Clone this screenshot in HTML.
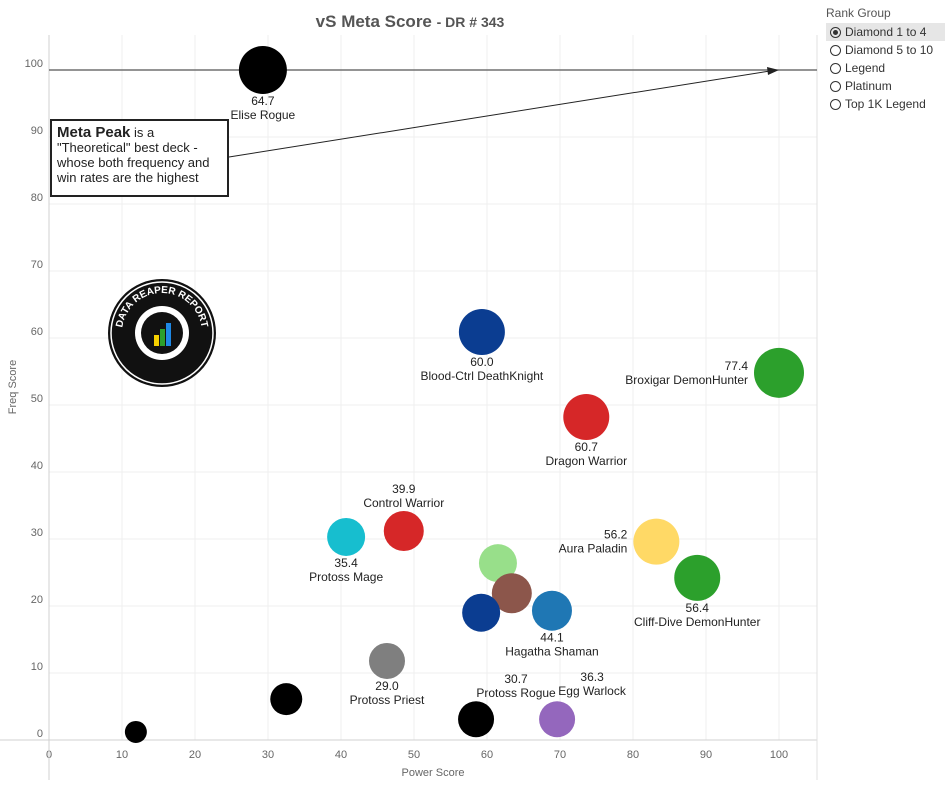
<!DOCTYPE html>
<html><head><meta charset="utf-8">
<style>
body{margin:0;background:#fff;font-family:"Liberation Sans",Arial,sans-serif;}
#wrap{position:relative;width:945px;height:789px;overflow:hidden;}
svg text{font-family:"Liberation Sans",Arial,sans-serif;}
.legend{position:absolute;left:826px;top:6px;font-size:12px;color:#333;}
.legend .t{color:#555;margin-bottom:3px;}
.legend .it{height:18px;line-height:18px;display:flex;align-items:center;padding-left:4px;width:115px;}
.legend .it.sel{background:#e6e6e6;}
.rad{width:11px;height:11px;border:1px solid #333;border-radius:50%;margin-right:4px;box-sizing:border-box;position:relative;}
.sel .rad::after{content:"";position:absolute;left:2px;top:2px;width:5px;height:5px;border-radius:50%;background:#333;}
.note{position:absolute;left:50px;top:119px;width:170px;height:70px;border:2px solid #222;background:#fff;padding:4px 0 0 5px;font-size:13px;line-height:15px;color:#222;}
</style></head><body>
<div id="wrap">
<svg id="chart" width="945" height="789">
<defs><path id="arcTop" d="M 122 333 A 40 40 0 0 1 202 333"/></defs>
<text x="410" y="27" text-anchor="middle" font-size="17" font-weight="bold" fill="#555">vS Meta Score <tspan font-size="14">- DR # 343</tspan></text>
<g id="grid"></g>
<g id="marks"></g>
</svg>
<div class="note"><b style="font-size:15px">Meta Peak</b> is a "Theoretical" best deck - whose both frequency and win rates are the highest</div>
<div class="legend">
<div class="t">Rank Group</div>
<div class="it sel"><span class="rad"></span>Diamond 1 to 4</div>
<div class="it"><span class="rad"></span>Diamond 5 to 10</div>
<div class="it"><span class="rad"></span>Legend</div>
<div class="it"><span class="rad"></span>Platinum</div>
<div class="it"><span class="rad"></span>Top 1K Legend</div>
</div>
</div>
<script>
const names=["Elise Rogue","Blood-Ctrl DeathKnight","Broxigar DemonHunter","Dragon Warrior","Control Warrior","Protoss Mage","Aura Paladin","Cliff-Dive DemonHunter","","","","Hagatha Shaman","Protoss Priest","","","Protoss Rogue","Egg Warlock"];
const powerScores=[29.3,59.3,100,73.6,48.6,40.7,83.2,88.8,61.5,63.4,59.2,68.9,46.3,32.5,11.9,58.5,69.6];
const freqScores=[100,60.9,54.8,48.2,31.2,30.3,29.6,24.2,26.4,21.9,19.0,19.3,11.8,6.1,1.2,3.1,3.1];
const metaScores=["64.7","60.0","77.4","60.7","39.9","35.4","56.2","56.4","","","","44.1","29.0","","","30.7","36.3"];
const bubbleSizes=[24,23,25,23,20,19,23,23,19,20,19,20,18,16,11,18,18];
const colors=["#000","#0b3d91","#2ca02c","#d62728","#d62728","#17becf","#ffd966","#2ca02c","#98df8a","#8c564b","#0b3d91","#1f77b4","#7f7f7f","#000","#000","#000","#9467bd"];
const labelPos=["below","below","left","below","above","below","left","below","","","","below","below","","","aboveL","aboveR"];
const xTicks=[0,10,20,30,40,50,60,70,80,90,100];
const yTicks=[0,10,20,30,40,50,60,70,80,90,100];
const X=v=>49+7.3*v, Y=v=>740-6.7*v;
const NS="http://www.w3.org/2000/svg";
function el(t,a,p){const e=document.createElementNS(NS,t);for(const k in a)e.setAttribute(k,a[k]);p.appendChild(e);return e;}
const g=document.getElementById('grid'), m=document.getElementById('marks');
xTicks.forEach(t=>{
 if(t>0){const l=el('line',{x1:X(t),x2:X(t),y1:35,y2:740,stroke:'#efefef'},g);
 
 }
 const tx=el('text',{x:X(t),y:758,'text-anchor':'middle','font-size':11,fill:'#666'},g);tx.textContent=t;
 
 
});
yTicks.forEach(t=>{
 if(t>0){const l=el('line',{x1:49,x2:817,y1:Y(t),y2:Y(t),stroke:'#efefef'},g);
 
 }
 const tx=el('text',{x:43,y:Y(t)-3,'text-anchor':'end','font-size':11,fill:'#666'},g);tx.textContent=t;
 
 
});
el('line',{x1:49,x2:49,y1:35,y2:780,stroke:'#d0d0d0'},g);
el('line',{x1:0,x2:817,y1:740,y2:740,stroke:'#d0d0d0'},g);
el('line',{x1:817,x2:817,y1:35,y2:780,stroke:'#e0e0e0'},g);
el('line',{x1:49,x2:817,y1:Y(100),y2:Y(100),stroke:'#555','stroke-width':1.3},g);
el('line',{x1:229,x2:770,y1:157,y2:71,stroke:'#222'},g);
el('polygon',{points:'779,70 767,67 768,75',fill:'#222'},g);
let xt=el('text',{x:433,y:776,'text-anchor':'middle','font-size':11,fill:'#666'},g);xt.textContent='Power Score';

let yt=el('text',{x:16,y:387,'text-anchor':'middle','font-size':11,fill:'#666',transform:'rotate(-90 16 387)'},g);yt.textContent='Freq Score';

// logo
const lg=el('g',{},g);

el('circle',{cx:162,cy:333,r:54,fill:'#111'},lg);
el('circle',{cx:162,cy:333,r:51,fill:'none',stroke:'#fff','stroke-width':1.5},lg);
el('circle',{cx:162,cy:333,r:27,fill:'#fff'},lg);
el('circle',{cx:162,cy:333,r:21,fill:'#111'},lg);
el('rect',{x:154,y:335,width:5,height:11,fill:'#f5d000'},lg);
el('rect',{x:160,y:329,width:5,height:17,fill:'#2ca02c'},lg);
el('rect',{x:166,y:323,width:5,height:23,fill:'#1e88e5'},lg);
const lt=el('text',{'font-size':10,'font-weight':'bold',fill:'#fff','text-anchor':'middle'},lg);
const tp=el('textPath',{href:'#arcTop',startOffset:'50%'},lt);tp.textContent='DATA REAPER REPORT';
for(let i=0;i<powerScores.length;i++){
 const cx=X(powerScores[i]),cy=Y(freqScores[i]),r=bubbleSizes[i];
 const c=el('circle',{cx:cx,cy:cy,r:r,fill:colors[i]},m);
 
 
 if(!names[i])continue;
 let lx=cx,ly=cy+r+11,anc='middle';
 const p=labelPos[i];
 if(p==='left'){lx=cx-r-6;ly=cy-3;anc='end';}
 if(p==='above'){ly=cy-r-18;}
 if(p==='aboveL'){lx=cx+40;ly=cy-r-18;}
 if(p==='aboveR'){lx=cx+35;ly=cy-r-20;}
 const a=el('text',{x:lx,y:ly,'text-anchor':anc,'font-size':12,fill:'#222'},m);
 
 a.textContent=metaScores[i];
 const b=el('text',{x:lx,y:ly+14,'text-anchor':anc,'font-size':12,fill:'#222'},m);
 
 b.textContent=names[i];
}
</script>
</body></html>
